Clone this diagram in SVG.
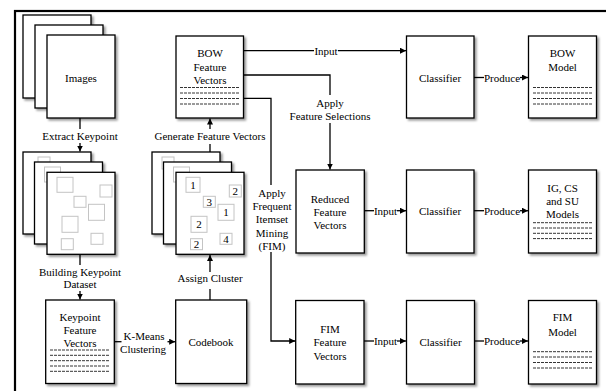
<svg xmlns="http://www.w3.org/2000/svg" width="606" height="391" viewBox="0 0 606 391">
<defs>
<filter id="sh" x="-10%" y="-10%" width="130%" height="130%">
<feDropShadow dx="2" dy="2" stdDeviation="1.2" flood-color="#000" flood-opacity="0.4"/>
</filter>
<marker id="ar" markerUnits="userSpaceOnUse" markerWidth="7" markerHeight="7" refX="6" refY="3" orient="auto">
<path d="M0,0 L6,3 L0,6 z" fill="#000"/>
</marker>
<style>
.box{fill:#fff;stroke:#000;stroke-width:1.3;filter:url(#sh)}
.t{font-family:"Liberation Serif","Times New Roman",serif;font-size:11px;fill:#000;text-anchor:middle}
.ln{fill:none;stroke:#000;stroke-width:1.3}
.ar{marker-end:url(#ar)}
.dash{stroke:#000;stroke-width:0.8;stroke-dasharray:3 1}
.sq{fill:#fff;stroke:#c4c4c4;stroke-width:1}
</style>
</defs>
<rect width="606" height="391" fill="#fff"/>
<rect x="15" y="11" width="620" height="400" fill="none" stroke="#000" stroke-width="2.2"/>

<g id="images">
<rect class="box" x="23" y="15" width="68" height="83"/>
<rect class="box" x="35" y="25" width="68" height="83"/>
<rect class="box" x="47" y="35" width="68" height="83"/>
<text class="t" x="81" y="81.5">Images</text>
</g>

<g id="bow-fv">
<rect class="box" x="176" y="36" width="67.5" height="82"/>
<text class="t" x="210" y="56.5">BOW</text>
<text class="t" x="210" y="70.5">Feature</text>
<text class="t" x="210" y="84">Vectors</text>
<path class="dash" d="M180,87.5H239M180,93H239M180,98.5H239M180,104H239"/>
</g>

<g id="classifier1">
<rect class="box" x="406.5" y="36" width="67.5" height="82"/>
<text class="t" x="440" y="81.5">Classifier</text>
</g>

<g id="bow-model">
<rect class="box" x="528.5" y="36" width="68" height="82"/>
<text class="t" x="562.5" y="57">BOW</text>
<text class="t" x="562.5" y="71">Model</text>
<path class="dash" d="M533,87.5H592M533,93H592M533,98.5H592M533,104H592"/>
</g>

<g id="keypoints">
<rect class="box" x="23" y="152" width="68" height="82"/>
<rect class="sq" x="38" y="157" width="12" height="12"/>
<rect class="box" x="34.5" y="162" width="68" height="82"/>
<rect class="sq" x="44.5" y="167" width="16" height="15"/>
<rect class="box" x="47" y="172.3" width="68" height="82"/>
<rect class="sq" x="57" y="177.3" width="16" height="15"/>
<rect class="sq" x="100" y="185" width="12" height="12"/>
<rect class="sq" x="74" y="196.3" width="12" height="11"/>
<rect class="sq" x="88.5" y="204.3" width="16" height="16"/>
<rect class="sq" x="62" y="216.3" width="16" height="16"/>
<rect class="sq" x="91" y="233.3" width="12" height="11"/>
<rect class="sq" x="61.3" y="238.7" width="12" height="11"/>
</g>

<g id="numbered">
<rect class="box" x="152" y="152" width="68" height="82"/>
<rect class="sq" x="162" y="157" width="12" height="12"/>
<rect class="box" x="163.5" y="162" width="68" height="82"/>
<rect class="sq" x="173.5" y="167" width="16" height="15"/>
<rect class="box" x="176" y="172.3" width="68" height="82"/>
<rect class="sq" x="186" y="177.3" width="14" height="15"/>
<text class="t" x="193" y="189">1</text>
<rect class="sq" x="229.3" y="185" width="12" height="12"/>
<text class="t" x="235.3" y="195">2</text>
<rect class="sq" x="203.3" y="196.3" width="12" height="11"/>
<text class="t" x="209.3" y="205.8">3</text>
<rect class="sq" x="218" y="204.3" width="16" height="16"/>
<text class="t" x="226" y="216.3">1</text>
<rect class="sq" x="191" y="216.3" width="16" height="16"/>
<text class="t" x="199" y="228.3">2</text>
<rect class="sq" x="220" y="233.3" width="12" height="11"/>
<text class="t" x="226" y="242.8">4</text>
<rect class="sq" x="190.5" y="238.7" width="12" height="11"/>
<text class="t" x="196.5" y="248.2">2</text>
</g>

<g id="reduced-fv">
<rect class="box" x="296" y="170" width="68.3" height="83"/>
<text class="t" x="330" y="203">Reduced</text>
<text class="t" x="330" y="216">Feature</text>
<text class="t" x="330" y="229">Vectors</text>
</g>

<g id="classifier2">
<rect class="box" x="406.5" y="170" width="67.5" height="83"/>
<text class="t" x="440" y="215">Classifier</text>
</g>

<g id="igcssu-model">
<rect class="box" x="528.5" y="170" width="68" height="83"/>
<text class="t" x="562.5" y="192">IG, CS</text>
<text class="t" x="562.5" y="205">and SU</text>
<text class="t" x="562.5" y="218">Models</text>
<path class="dash" d="M533,222.7H592M533,228H592M533,233.3H592M533,238.6H592"/>
</g>

<g id="keypoint-fv">
<rect class="box" x="45.7" y="300" width="68.6" height="83.5"/>
<text class="t" x="80" y="320.5">Keypoint</text>
<text class="t" x="80" y="334">Feature</text>
<text class="t" x="80" y="346.5">Vectors</text>
<path class="dash" d="M50,350H109M50,355.3H109M50,360.7H109M50,366H109M50,371.3H109"/>
</g>

<g id="codebook">
<rect class="box" x="175.7" y="300" width="71" height="83.5"/>
<text class="t" x="211" y="346">Codebook</text>
</g>

<g id="fim-fv">
<rect class="box" x="295.7" y="300.5" width="68.3" height="83.5"/>
<text class="t" x="330" y="333">FIM</text>
<text class="t" x="330" y="346">Feature</text>
<text class="t" x="330" y="359.5">Vectors</text>
</g>

<g id="classifier3">
<rect class="box" x="406.5" y="300.5" width="68" height="83.5"/>
<text class="t" x="440.5" y="346">Classifier</text>
</g>

<g id="fim-model">
<rect class="box" x="528.5" y="300.5" width="68" height="83.5"/>
<text class="t" x="562.5" y="320.5">FIM</text>
<text class="t" x="562.5" y="335.5">Model</text>
<path class="dash" d="M533,351.7H592M533,357H592M533,362.5H592M533,368H592"/>
</g>

<g id="connectors">
<path class="ln" d="M80,118V129"/>
<path class="ln ar" d="M80,143V151.5"/>
<text class="t" x="80" y="139.5">Extract Keypoint</text>

<path class="ln" d="M210,152V144"/>
<path class="ln ar" d="M210,129V118.5"/>
<text class="t" x="210" y="139.5">Generate Feature Vectors</text>

<path class="ln" d="M243.5,50.7H314"/>
<path class="ln ar" d="M338,50.7H406"/>
<text class="t" x="326" y="54.5">Input</text>

<path class="ln" d="M243.5,75H330V95"/>
<path class="ln ar" d="M330,123V169.5"/>
<text class="t" x="330" y="107">Apply</text>
<text class="t" x="330" y="119.5">Feature Selections</text>

<path class="ln" d="M243.5,98.3H271V185"/>
<path class="ln ar" d="M271,252V341H295.2"/>
<text class="t" x="272" y="196.5">Apply</text>
<text class="t" x="272" y="210">Frequent</text>
<text class="t" x="272" y="223">Itemset</text>
<text class="t" x="272" y="236.5">Mining</text>
<text class="t" x="272" y="250">(FIM)</text>

<path class="ln" d="M474,77.5H484"/>
<path class="ln ar" d="M520,77.5H528"/>
<text class="t" x="502" y="81.5">Produce</text>

<path class="ln" d="M364.3,210.7H374"/>
<path class="ln ar" d="M397,210.7H406"/>
<text class="t" x="385.5" y="214.5">Input</text>

<path class="ln" d="M474,210.7H484"/>
<path class="ln ar" d="M520,210.7H528"/>
<text class="t" x="502" y="214.5">Produce</text>

<path class="ln" d="M364,341H374"/>
<path class="ln ar" d="M397,341H406"/>
<text class="t" x="385.5" y="345">Input</text>

<path class="ln" d="M474.5,341H484"/>
<path class="ln ar" d="M520,341H528"/>
<text class="t" x="502" y="345">Produce</text>

<path class="ln" d="M80,254.5V265"/>
<path class="ln ar" d="M80,291V299.5"/>
<text class="t" x="80" y="276">Building Keypoint</text>
<text class="t" x="80" y="288">Dataset</text>

<path class="ln" d="M210,300V289"/>
<path class="ln ar" d="M210,272V255"/>
<text class="t" x="210" y="282">Assign Cluster</text>

<path class="ln" d="M114.3,341.7H121.5"/>
<path class="ln ar" d="M167.5,341.7H175.2"/>
<text class="t" x="144" y="340">K-Means</text>
<text class="t" x="143" y="353">Clustering</text>
</g>
</svg>
